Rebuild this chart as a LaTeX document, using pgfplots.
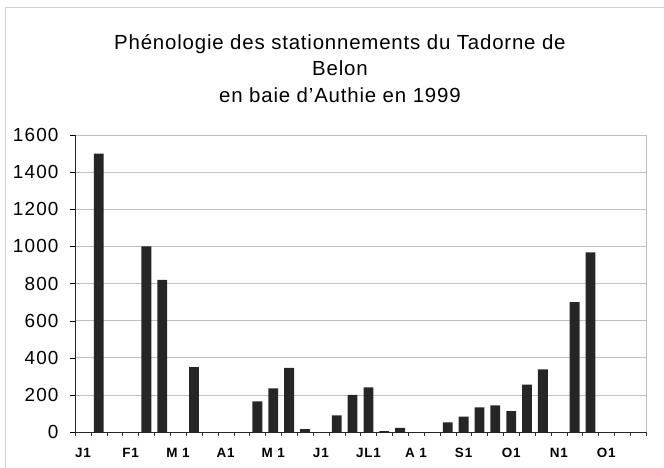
\documentclass[border=0pt]{standalone}
\usepackage{pgfplots}
\pgfplotsset{compat=1.18}
\usepackage{fontspec}
\setmainfont{Liberation Sans}
\begin{document}
\begin{tikzpicture}
\path[use as bounding box] (0,0) rectangle (664bp,468bp);
\draw[gray!35] (5bp,0) -- (5bp,461bp) -- (664bp,461bp);
\begin{axis}[
  at={(75bp,36bp)}, anchor=south west, scale only axis,
  width=571bp, height=297bp,
  xmin=-0.5, xmax=35.5, ymin=0, ymax=1600,
  ybar, bar width=0.62, bar shift=0pt,
  axis lines=left, axis line style={-, black!85, line width=0.8pt},
  ytick={0,200,...,1600}, ymajorgrids,
  grid style={gray!50, line width=0.6pt},
  xtick={0,3,...,33},
  xticklabels={J1,F1,M 1,A1,M 1,J1,JL1,A 1,S1,O1,N1,O1},
  minor xtick={-0.5,0.5,...,35.5},
  tick align=outside,
  major tick length=5bp, minor tick length=4bp,
  major x tick style={draw=none},
  minor x tick style={black!80},
  ytick style={black},
  extra x ticks={35.5}, extra x tick labels={},
  extra x tick style={grid=major, major x tick style={draw=none}},
  /pgf/number format/assume math mode=true,
  /pgf/number format/1000 sep={},
  yticklabel style={font=\addfontfeature{LetterSpace=6}\fontsize{19}{19}\selectfont, xshift=-8bp},
  xticklabel style={font=\bfseries\addfontfeature{LetterSpace=6}\fontsize{13.5}{13.5}\selectfont, yshift=-8bp},
  title={Phénologie des stationnements du Tadorne de\\Belon\\en baie d'Authie en 1999},
  title style={at={(0.464,1)}, anchor=south, yshift=23bp, align=center,
    font=\addfontfeature{LetterSpace=4}\fontsize{20.5}{26.5}\selectfont},
]
\addplot[fill=black!85, draw=none] coordinates {
 (1,1500) (4,1000) (5,820) (7,350) (11,165) (12,235) (13,345) (14,15)
 (16,90) (17,200) (18,240) (19,5) (20,22) (23,52) (24,83) (25,133)
 (26,144) (27,113) (28,255) (29,338) (31,700) (32,968)
};
\end{axis}
\end{tikzpicture}
\end{document}
